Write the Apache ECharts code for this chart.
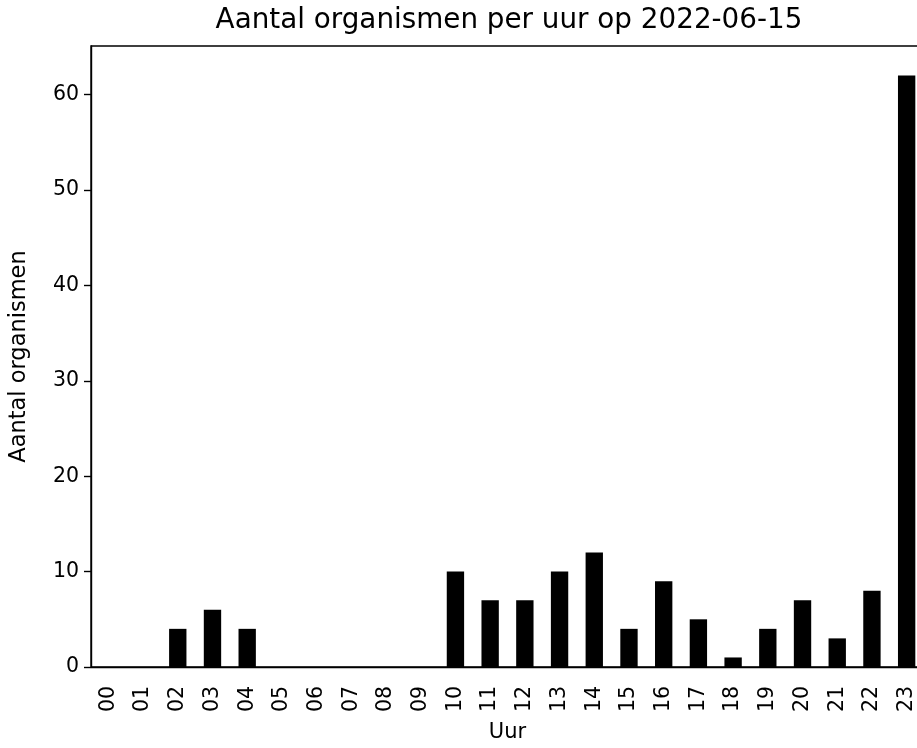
<!DOCTYPE html>
<html>
<head>
<meta charset="utf-8">
<title>Aantal organismen per uur</title>
<script src="https://cdn.jsdelivr.net/npm/echarts@6/dist/echarts.min.js"></script>
<style>
  html, body { margin: 0; padding: 0; background: #fff; overflow: hidden; }
  /* plot runs a few px past the right edge, like the cropped original */
  #chart { width: 924px; height: 748px; }
</style>
</head>
<body>
<div id="chart"></div>
<script>
var hours = ["00", "01", "02", "03", "04", "05", "06", "07", "08", "09", "10", "11",
             "12", "13", "14", "15", "16", "17", "18", "19", "20", "21", "22", "23"];
var counts = [0, 0, 4, 6, 4, 0, 0, 0, 0, 0, 10, 7, 7, 10, 12, 4, 9, 5, 1, 4, 7, 3, 8, 62];
var yTicks = [0, 10, 20, 30, 40, 50, 60];

var font = "DejaVu Sans";
var chart = echarts.init(document.getElementById("chart"));

chart.setOption({
  animation: false,
  title: {
    text: "Aantal organismen per uur op 2022-06-15",
    left: 504,
    top: 2,
    textAlign: "center",
    textStyle: {
      fontFamily: font,
      fontSize: 27.8,
      fontWeight: "normal",
      color: "#000",
    },
  },
  grid: {
    left: 90,
    right: 0,
    top: 46,
    bottom: 81,
    show: true,
    borderColor: "#000",
    borderWidth: 1.4,
  },
  xAxis: {
    type: "category",
    data: hours,
    name: "Uur",
    nameLocation: "middle",
    nameGap: 55,
    nameTextStyle: { fontFamily: font, fontSize: 21, color: "#000" },
    axisLine: { lineStyle: { color: "#000", width: 1.4 } },
    axisTick: { alignWithLabel: true, length: 7, lineStyle: { color: "#000", width: 1.4 } },
    axisLabel: {
      rotate: 90,
      margin: 19,
      interval: 0,
      fontFamily: font,
      fontSize: 20.5,
      color: "#000",
    },
  },
  yAxis: {
    type: "value",
    min: 0,
    max: 65.1,
    interval: 10,
    name: "Aantal organismen",
    nameLocation: "middle",
    nameGap: 60,
    nameTextStyle: { fontFamily: font, fontSize: 22.5, color: "#000" },
    axisLine: { show: true, lineStyle: { color: "#000", width: 1.4 } },
    axisTick: { show: true, length: 7, customValues: yTicks, lineStyle: { color: "#000", width: 1.4 } },
    axisLabel: {
      margin: 12,
      customValues: yTicks,
      fontFamily: font,
      fontSize: 20.5,
      color: "#000",
    },
    splitLine: { show: false },
  },
  series: [
    {
      type: "bar",
      data: counts,
      barWidth: "50%",
      itemStyle: { color: "#000" },
    },
  ],
});
</script>
</body>
</html>
